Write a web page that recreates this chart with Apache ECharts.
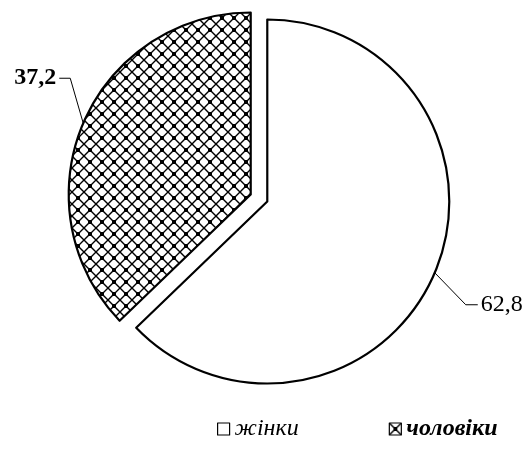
<!DOCTYPE html>
<html>
<head>
<meta charset="utf-8">
<script src="https://cdn.jsdelivr.net/npm/echarts@6/dist/echarts.min.js"></script>
<style>html,body{margin:0;padding:0;background:#fff}#c{width:529px;height:453px}</style>
</head>
<body>
<div id="c"></div>
<script>
var categories = ['жінки', 'чоловіки'];
var values = [62.8, 37.2];
var labelTexts = ['62,8', '37,2'];

function makePattern() {
  var s = 12;
  var c = document.createElement('canvas');
  c.width = s; c.height = s;
  var g = c.getContext('2d');
  g.fillStyle = '#fff'; g.fillRect(0, 0, s, s);
  g.strokeStyle = '#000'; g.lineWidth = 1.4;
  g.beginPath();
  g.moveTo(0, 0); g.lineTo(s, s);
  g.moveTo(s, 0); g.lineTo(0, s);
  g.stroke();
  g.fillStyle = '#000';
  g.fillRect(s / 2 - 2, s / 2 - 2, 4, 4);
  return c;
}
var pattern = { image: makePattern(), repeat: 'repeat' };
var fills = ['#ffffff', pattern];

var font = '"Liberation Serif", "Times New Roman", serif';
var baseCenter = [259, 198];
var explode = 9;
var R = 182;

var total = values.reduce(function (a, b) { return a + b; }, 0);
var cum = 0;
var series = categories.map(function (name, i) {
  var startFrac = cum / total;
  cum += values[i];
  var midFrac = startFrac + values[i] / total / 2;
  var theta = midFrac * 2 * Math.PI; // clockwise from 12 o'clock
  var cx = baseCenter[0] + explode * Math.sin(theta);
  var cy = baseCenter[1] - explode * Math.cos(theta);
  var data = categories.map(function (n, j) {
    if (j === i) {
      return {
        name: n, value: values[j],
        itemStyle: { color: fills[j], borderColor: '#000', borderWidth: 2.2 },
        label: { show: true, fontWeight: j === 1 ? 'bold' : 'normal' },
        labelLine: { show: true }
      };
    }
    return {
      name: '_hidden_' + i + '_' + j, value: values[j],
      itemStyle: { color: 'rgba(0,0,0,0)', borderWidth: 0 },
      label: { show: false }, labelLine: { show: false }
    };
  });
  return {
    type: 'pie',
    center: [cx, cy],
    radius: [0, R],
    startAngle: 90,
    clockwise: true,
    silent: true,
    label: {
      show: true,
      position: 'outside',
      overflow: 'none',
      edgeDistance: 0,
      fontFamily: font,
      fontSize: 24,
      color: '#000',
      formatter: function (p) { return labelTexts[categories.indexOf(p.name)]; }
    },
    labelLine: { show: true, length: 20, length2: 12, lineStyle: { color: '#000', width: 1 } },
    emphasis: { disabled: true },
    data: data,
    labelLayout: function (p) {
      if (!p.labelLinePoints) return {};
      var s = p.labelLinePoints[0];
      if (p.seriesIndex === 0) {
        var a = [s[0] + 31, s[1] + 32];
        var b = [a[0] + 12, a[1]];
        return { x: b[0] + 3, y: b[1], align: 'left', verticalAlign: 'middle', width: 60, labelLinePoints: [s, a, b] };
      } else {
        var a2 = [s[0] - 13, s[1] - 45];
        var b2 = [a2[0] - 11, a2[1]];
        return { x: b2[0] - 3, y: b2[1], align: 'right', verticalAlign: 'middle', width: 60, labelLinePoints: [s, a2, b2] };
      }
    }
  };
});

var chart = echarts.init(document.getElementById('c'), null, { renderer: 'canvas' });
chart.setOption({
  animation: false,
  backgroundColor: '#fff',
  legend: {
    top: 412,
    left: 212,
    itemWidth: 12,
    itemHeight: 12,
    itemGap: 90,
    icon: 'rect',
    selectedMode: false,
    itemStyle: { borderWidth: 1.2, borderColor: '#000' },
    data: [
      { name: categories[0], textStyle: { fontFamily: font, fontStyle: 'italic', fontSize: 24, color: '#000' } },
      { name: categories[1], textStyle: { fontFamily: font, fontStyle: 'italic', fontWeight: 'bold', fontSize: 24, color: '#000' } }
    ]
  },
  series: series
});
</script>
</body>
</html>
